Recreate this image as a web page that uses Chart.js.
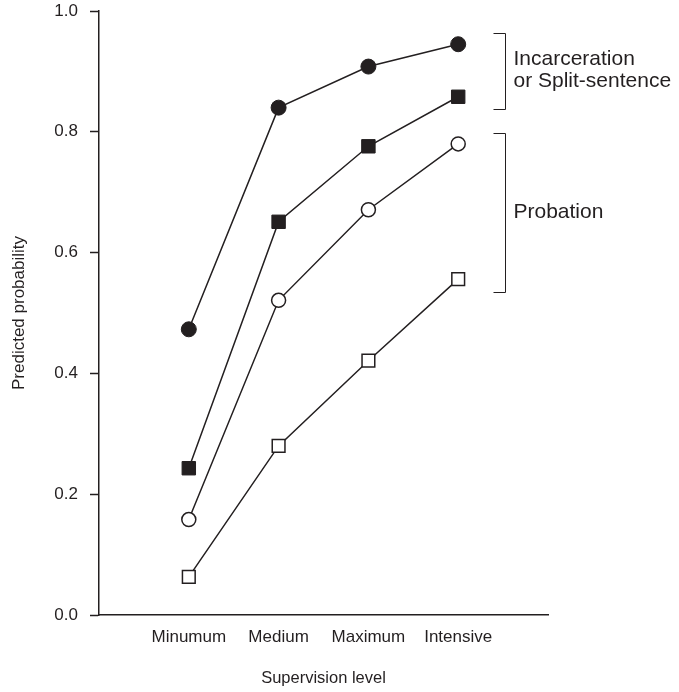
<!DOCTYPE html>
<html>
<head>
<meta charset="utf-8">
<script src="https://cdn.jsdelivr.net/npm/chart.js@4.4.1/dist/chart.umd.min.js"></script>
<style>
  html, body { margin: 0; padding: 0; background: #ffffff; }
  #wrap { width: 679px; height: 692px; position: relative; }
</style>
</head>
<body>
<div id="wrap"><canvas id="chart" width="679" height="692"></canvas></div>
<script>
// Supervision levels along the x axis (placed at positions 1..4)
const categories = ['Minumum', 'Medium', 'Maximum', 'Intensive'];

// Predicted probabilities per supervision level
const incarcerationHigh = [0.473, 0.840, 0.908, 0.945]; // filled circles
const incarcerationLow  = [0.243, 0.651, 0.776, 0.858]; // filled squares
const probationHigh     = [0.158, 0.521, 0.671, 0.780]; // open circles
const probationLow      = [0.063, 0.280, 0.421, 0.556]; // open squares

// Y axis tick values and labels
const yTickValues = [0.0, 0.2, 0.4, 0.6, 0.8, 1.0];
const yTickLabels = ['0.0', '0.2', '0.4', '0.6', '0.8', '1.0'];

// Outcome groups marked with brackets on the right (value ranges)
const groupLabels = [['Incarceration', 'or Split-sentence'], ['Probation']];
const groupTops    = [0.964, 0.798];
const groupBottoms = [0.838, 0.534];

const INK = '#231f20';
const FONT = '"Liberation Sans", Arial, Helvetica, sans-serif';

function toPoints(values) {
  return values.map((v, i) => ({ x: i + 1, y: v }));
}

function series(values, style, radius, filled, borderWidth) {
  return {
    data: toPoints(values),
    borderColor: INK,
    borderWidth: 1.5,
    pointStyle: style,
    pointRadius: radius,
    pointHoverRadius: radius,
    pointBackgroundColor: filled ? INK : '#ffffff',
    pointBorderColor: INK,
    pointBorderWidth: borderWidth,
    tension: 0,
    fill: false
  };
}

// Brackets and their labels beside the plot
const groupBrackets = {
  id: 'groupBrackets',
  afterDraw(chart) {
    const ctx = chart.ctx;
    const xs = chart.scales.x, ys = chart.scales.y;
    const bx = Math.round(xs.getPixelForValue(4)) + 47.5;
    ctx.save();
    ctx.strokeStyle = INK;
    ctx.lineWidth = 1;
    ctx.fillStyle = INK;
    ctx.font = '21px ' + FONT;
    ctx.textAlign = 'left';
    ctx.textBaseline = 'middle';
    groupLabels.forEach((lines, i) => {
      const yt = Math.round(ys.getPixelForValue(groupTops[i])) + 0.5;
      const yb = Math.round(ys.getPixelForValue(groupBottoms[i])) + 0.5;
      ctx.beginPath();
      ctx.moveTo(bx - 12, yt);
      ctx.lineTo(bx, yt);
      ctx.lineTo(bx, yb);
      ctx.lineTo(bx - 12, yb);
      ctx.stroke();
      const lh = 22;
      const mid = (yt + yb) / 2 - 1;
      const start = mid - (lines.length - 1) * lh / 2;
      lines.forEach((t, k) => ctx.fillText(t, bx + 8, start + k * lh));
    });
    ctx.restore();
  }
};

new Chart(document.getElementById('chart'), {
  type: 'line',
  data: {
    datasets: [
      series(incarcerationHigh, 'circle', 7.5, true, 1),
      series(incarcerationLow, 'rect', 9.5, true, 1),
      series(probationHigh, 'circle', 7, false, 1.5),
      series(probationLow, 'rect', 9, false, 1.5)
    ]
  },
  options: {
    responsive: false,
    animation: false,
    events: [],
    layout: { padding: { left: 0, top: 11, right: 131, bottom: 0 } },
    plugins: {
      legend: { display: false },
      tooltip: { enabled: false },
      title: { display: false }
    },
    scales: {
      x: {
        type: 'linear',
        min: 0,
        max: 5,
        afterBuildTicks(scale) {
          scale.ticks = categories.map((_, i) => ({ value: i + 1 }));
        },
        afterFit(scale) {
          scale.height = 77;
          scale.paddingLeft = 0;
          scale.paddingRight = 0;
        },
        grid: { display: true, drawOnChartArea: false, drawTicks: false },
        border: { display: true, color: INK, width: 1.5 },
        ticks: {
          color: INK,
          font: { family: FONT, size: 17 },
          padding: 12,
          maxRotation: 0,
          autoSkip: false,
          callback: (v) => categories[v - 1]
        },
        title: {
          display: true,
          text: 'Supervision level',
          color: INK,
          font: { family: FONT, size: 16.5 },
          padding: { top: 0, bottom: 3.4 }
        }
      },
      y: {
        type: 'linear',
        min: 0,
        max: 1,
        afterBuildTicks(scale) {
          scale.ticks = yTickValues.map(v => ({ value: v }));
        },
        afterFit(scale) {
          scale.width = 99;
          scale.paddingTop = 0;
          scale.paddingBottom = 0;
        },
        grid: {
          display: true,
          drawOnChartArea: false,
          drawTicks: true,
          tickLength: 9,
          tickWidth: 1.5,
          tickColor: INK
        },
        border: { display: true, color: INK, width: 1.5 },
        ticks: {
          color: INK,
          font: { family: FONT, size: 17 },
          padding: 12,
          callback: (v) => yTickLabels[yTickValues.indexOf(v)]
        },
        title: {
          display: true,
          text: 'Predicted probability',
          color: INK,
          font: { family: FONT, size: 17 },
          padding: { top: 9, bottom: 0 }
        }
      }
    }
  },
  plugins: [groupBrackets]
});
</script>
</body>
</html>
